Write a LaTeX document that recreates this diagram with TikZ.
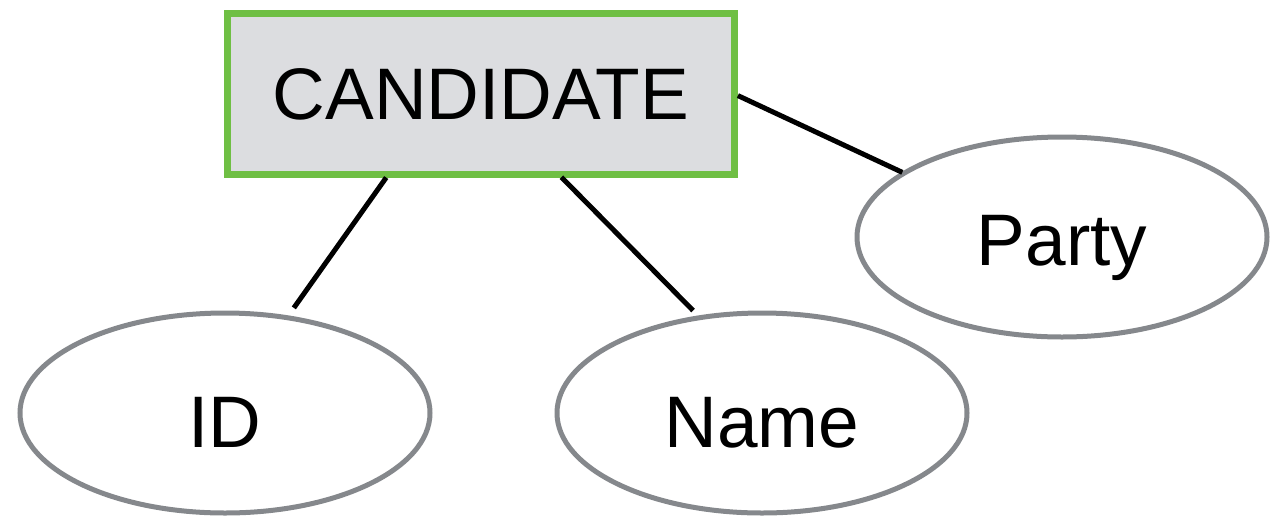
\documentclass[tikz,border=0pt]{standalone}
\usepackage{fontspec}
\setmainfont{Liberation Sans}
\usetikzlibrary{shapes.geometric}
\definecolor{entgreen}{HTML}{6FBF44}
\definecolor{entfill}{HTML}{DCDDE0}
\definecolor{attrgray}{HTML}{85888C}
\begin{document}
\begin{tikzpicture}[x=1pt,y=-1pt,
  entity/.style={draw=entgreen,fill=entfill,line width=7.5pt,rectangle,
    minimum width=507pt,minimum height=161pt,inner sep=0pt,outer sep=0pt,
    font=\fontsize{73}{80}\selectfont},
  attr/.style={draw=attrgray,line width=5pt,ellipse,
    minimum width=410pt,minimum height=200pt,inner sep=0pt,outer sep=0pt},
  attrtext/.style={anchor=base,inner sep=0pt,font=\fontsize{73}{80}\selectfont},
  link/.style={line width=5pt,black}]
\useasboundingbox (0,0) rectangle (1279,517);
% attributes
\node[attr] (id) at (225,413) {};
\node[attr] (name) at (762,413) {};
\node[attr] (party) at (1062,237) {};
\node[attrtext] (idtext) at (225,447) {ID};
\node[attrtext] (nametext) at (762,447) {Name};
\node[attrtext] (partytext) at (1062,265) {Party};
% entity
\node[entity] (cand) at (481,94) {CANDIDATE};
% connectors
\draw[link,shorten <=3.75pt,shorten >=12pt] (cand.221.5) -- (id.57.7);
\draw[link,shorten <=3.75pt,shorten >=10pt] (cand.-46.3) -- (name.123.8);
\draw[link,shorten <=3.75pt,shorten >=2pt] (cand.east) -- (party.158.4);
\end{tikzpicture}
\end{document}
